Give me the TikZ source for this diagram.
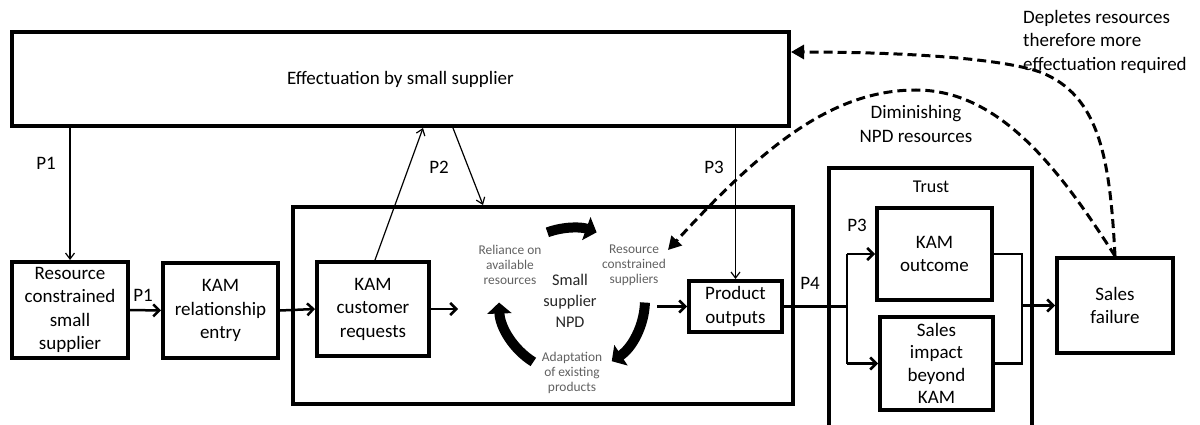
\documentclass[tikz,border=0pt]{standalone}
\usepackage{fontspec}
\setmainfont{Carlito}
\usetikzlibrary{arrows.meta,calc}
\newcommand\boxfont{\fontsize{19pt}{23.5pt}\selectfont}
\newcommand\cycfont{\fontsize{13.4pt}{15pt}\selectfont}
\newcommand\hubfont{\fontsize{16.3pt}{21pt}\selectfont}
\tikzset{
  box/.style={draw, line width=4pt, align=center, inner sep=0pt, font=\boxfont},
  lbl/.style={font=\boxfont, inner sep=0pt, align=center},
  thinarrow/.style={line width=1.2pt, -{Straight Barb[length=6pt,width=9pt]}},
  flow/.style={line width=2.5pt, -{Straight Barb[length=6pt,width=12pt]}},
  link/.style={line width=2.3pt},
  feedback/.style={line width=3pt, dash pattern=on 9pt off 5pt,
    -{Triangle[length=13pt,width=14pt]}},
  cyc/.style={line width=10pt, -{Triangle[length=11pt,width=24pt]}},
  cyclbl/.style={font=\cycfont, text=black!62, align=center, inner sep=0pt},
}
\begin{document}
\begin{tikzpicture}[x=1pt,y=-1pt]
\useasboundingbox (0,0) rectangle (1200,425);

% boxes
\node[box, minimum width=777pt, minimum height=94pt] (eff) at (400.5,79) {Effectuation by small supplier};
\node[box, minimum width=116pt, minimum height=96pt] (rcs) at (70,310) {Resource\\constrained\\small\\supplier};
\node[box, minimum width=115pt, minimum height=95pt] (kre) at (220.5,310.5) {KAM\\relationship\\entry};
\node[box, minimum width=500pt, minimum height=197pt] (npd) at (543,305.5) {};
\node[box, minimum width=112pt, minimum height=94pt] (kcr) at (373,309) {KAM\\customer\\requests};
\node[box, minimum width=93pt, minimum height=51pt] (po) at (735.5,306.5) {Product\\outputs};
\node[box, minimum width=115pt, minimum height=92pt] (ko) at (934.5,254) {KAM\\outcome};
\node[box, minimum width=113pt, minimum height=93pt, font=\fontsize{19pt}{22.5pt}\selectfont] (sib) at (936.5,363.5) {Sales\\impact\\beyond\\KAM};
\node[box, minimum width=116pt, minimum height=95pt] (sf) at (1115,305.5) {Sales\\failure};

% open-bottomed trust frame
\draw[line width=4pt] (829,425) -- (829,168) -- (1032,168) -- (1032,425);
\node[lbl, font=\fontsize{18pt}{22pt}\selectfont] (trust) at (931,187) {Trust};

% NPD cycle
\node[font=\hubfont, text=black!85, align=center, inner sep=0pt] (hub) at (570,301) {Small\\supplier\\NPD};
\node[cyclbl] (rel) at (510,265) {Reliance on\\available\\resources};
\node[cyclbl] (rcsup) at (634,265) {Resource\\constrained\\suppliers};
\node[cyclbl] (adp) at (572,373) {Adaptation\\of existing\\products};
\draw[cyc] (572,300) ++(-110:72) arc[start angle=-110, end angle=-70, radius=72];
\draw[cyc] (572,300) ++(2:73) arc[start angle=2, end angle=57, radius=73];
\draw[cyc] (572,300) ++(122:73) arc[start angle=122, end angle=178, radius=73];

% proposition labels
\node[lbl] (p1a) at (46,163) {P1};
\node[lbl] (p1b) at (143,295) {P1};
\node[lbl] (p2) at (439,167) {P2};
\node[lbl] (p3a) at (714,167) {P3};
\node[lbl] (p4) at (810,283) {P4};
\node[lbl] (p3b) at (857,225) {P3};

% feedback labels
\node[lbl, align=left, anchor=west] (dep) at (1023,41.5) {Depletes resources\\therefore more\\effectuation required};
\node[lbl] (dim) at (916,124) {Diminishing\\NPD resources};

% connectors
\coordinate (cyin) at (458,309);
\coordinate (cyout) at (657,306.5);
\coordinate (split) at (847,306.5);
\coordinate (merge) at (1022,305.5);
\coordinate (dimtip) at (668,250);

\draw[thinarrow] (rcs.north |- eff.south) -- (rcs.north);
\draw[flow] (rcs.east) -- (kre.west);
\draw[flow] (kre.east) -- (kcr.west);
\draw[flow] (kcr.east) -- (cyin);
\draw[thinarrow] ([xshift=2pt]kcr.north) -- ([xshift=22.5pt]eff.south);
\draw[thinarrow] ([xshift=52.5pt]eff.south) -- ([xshift=-60pt]npd.north);
\draw[thinarrow] (po.north |- eff.south) -- (po.north);
\draw[flow] (cyout) -- (po.west);

\draw[link] (po.east) -- (split);
\draw[flow] (split |- ko.west) -- (ko.west);
\draw[flow] (split |- sib.west) -- (sib.west);
\draw[link] (split |- ko.west) -- (split |- sib.west);
\draw[link] (ko.east) -- (merge |- ko.east) -- (merge |- sib.east) -- (sib.east);
\draw[flow] (merge) -- (sf.west);

% feedback loops
\draw[feedback] (sf.north) .. controls (1110,160) and (1100,95) .. (1040,72)
  .. controls (1000,58) and (900,52) .. ([yshift=27pt]eff.east);
\draw[feedback] (sf.north) .. controls (1060,170) and (1000,90) .. (916,90)
  .. controls (830,90) and (760,150) .. (dimtip);
\end{tikzpicture}
\end{document}
